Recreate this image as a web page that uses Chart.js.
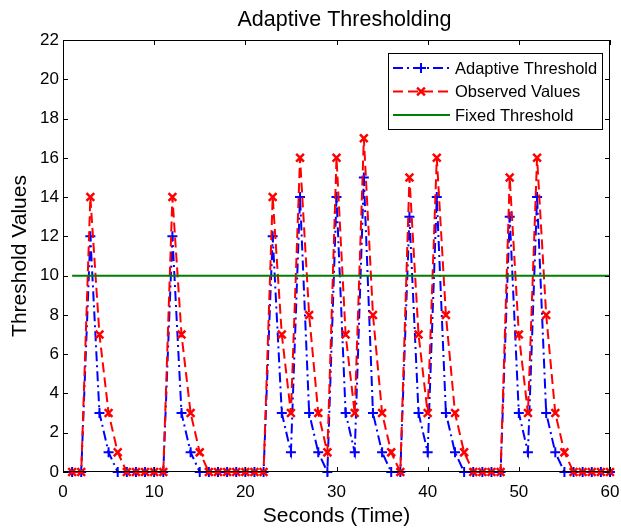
<!DOCTYPE html>
<html>
<head>
<meta charset="utf-8">
<title>Adaptive Thresholding</title>
<script src="https://cdn.jsdelivr.net/npm/chart.js@4.4.0/dist/chart.umd.min.js"></script>
<style>
  html, body { margin: 0; padding: 0; background: #fff; }
  #wrap { width: 621px; height: 529px; }
</style>
</head>
<body>
<div id="wrap"><canvas id="chart"></canvas></div>
<script>
// values, one sample per second
const seconds = [
  1, 2, 3, 4, 5, 6, 7, 8, 9, 10,
  11, 12, 13, 14, 15, 16, 17, 18, 19, 20,
  21, 22, 23, 24, 25, 26, 27, 28, 29, 30,
  31, 32, 33, 34, 35, 36, 37, 38, 39, 40,
  41, 42, 43, 44, 45, 46, 47, 48, 49, 50,
  51, 52, 53, 54, 55, 56, 57, 58, 59, 60
];
const observedValues = [
  0, 0, 14, 7, 3, 1, 0, 0, 0, 0,
  0, 14, 7, 3, 1, 0, 0, 0, 0, 0,
  0, 0, 14, 7, 3, 16, 8, 3, 1, 16,
  7, 3, 17, 8, 3, 1, 0, 15, 7, 3,
  16, 8, 3, 1, 0, 0, 0, 0, 15, 7,
  3, 16, 8, 3, 1, 0, 0, 0, 0, 0
];
const adaptiveThreshold = [
  0, 0, 12, 3, 1, 0, 0, 0, 0, 0,
  0, 12, 3, 1, 0, 0, 0, 0, 0, 0,
  0, 0, 12, 3, 1, 14, 3, 1, 0, 14,
  3, 1, 15, 3, 1, 0, 0, 13, 3, 1,
  14, 3, 1, 0, 0, 0, 0, 0, 13, 3,
  1, 14, 3, 1, 0, 0, 0, 0, 0, 0
];
const fixedThreshold = 10;
const xTicks = [0, 10, 20, 30, 40, 50, 60];
const yTicks = [0, 2, 4, 6, 8, 10, 12, 14, 16, 18, 20, 22];

const FONT = "'Liberation Sans', Arial, Helvetica, sans-serif";
const titleText = 'Adaptive Thresholding';

function toPoints(values) {
  return seconds.map((s, i) => ({ x: s, y: values[i] }));
}

// marker drawing for the legend, same shapes as chart.js cross / crossRot
function drawMarker(ctx, style, r, cx, cy) {
  ctx.beginPath();
  if (style === 'cross') {
    ctx.moveTo(cx - r, cy); ctx.lineTo(cx + r, cy);
    ctx.moveTo(cx, cy - r); ctx.lineTo(cx, cy + r);
  } else if (style === 'crossRot') {
    const d = r * Math.SQRT1_2;
    ctx.moveTo(cx - d, cy - d); ctx.lineTo(cx + d, cy + d);
    ctx.moveTo(cx - d, cy + d); ctx.lineTo(cx + d, cy - d);
  }
  ctx.stroke();
}

// box, inward ticks, title and boxed legend like the matlab figure
const matlabFrame = {
  id: 'matlabFrame',
  afterDatasetsDraw(chart) {
    const { ctx, chartArea: a, scales: { x, y } } = chart;
    ctx.save();
    ctx.setLineDash([]);
    ctx.strokeStyle = '#000';
    ctx.lineWidth = 1;
    ctx.strokeRect(a.left + 0.5, a.top + 0.5, a.width - 1, a.height - 1);
    ctx.beginPath();
    x.ticks.forEach(t => {
      const px = Math.round(x.getPixelForValue(t.value)) + 0.5;
      ctx.moveTo(px, a.bottom); ctx.lineTo(px, a.bottom - 5);
      ctx.moveTo(px, a.top); ctx.lineTo(px, a.top + 5);
    });
    y.ticks.forEach(t => {
      const py = Math.round(y.getPixelForValue(t.value)) + 0.5;
      ctx.moveTo(a.left, py); ctx.lineTo(a.left + 5, py);
      ctx.moveTo(a.right, py); ctx.lineTo(a.right - 5, py);
    });
    ctx.stroke();

    // title
    ctx.fillStyle = '#000';
    ctx.font = '21.5px ' + FONT;
    ctx.textAlign = 'center';
    ctx.textBaseline = 'middle';
    ctx.fillText(titleText, (a.left + a.right) / 2 + 8, 20);

    // legend
    const bx = a.right - 222, by = a.top + 13, bw = 214, bh = 76;
    ctx.fillStyle = '#fff';
    ctx.fillRect(bx, by, bw, bh);
    ctx.strokeStyle = '#000';
    ctx.lineWidth = 1;
    ctx.strokeRect(bx + 0.5, by + 0.5, bw, bh);
    ctx.font = '16.5px ' + FONT;
    ctx.textAlign = 'left';
    const order = [0, 1, 2];
    order.forEach((di, row) => {
      const ds = chart.data.datasets[di];
      const ry = by + 15 + row * 23.5;
      ctx.strokeStyle = ds.borderColor;
      ctx.lineWidth = ds.borderWidth;
      ctx.setLineDash(ds.borderDash || []);
      ctx.beginPath();
      ctx.moveTo(bx + 5, ry); ctx.lineTo(bx + 62, ry);
      ctx.stroke();
      ctx.setLineDash([]);
      if (ds.pointRadius > 0) {
        ctx.lineWidth = ds.pointBorderWidth;
        drawMarker(ctx, ds.pointStyle, ds.pointRadius, bx + 33, ry);
      }
      ctx.fillStyle = '#000';
      ctx.fillText(ds.label, bx + 67, ry + 1);
    });
    ctx.restore();
  }
};

new Chart(document.getElementById('chart'), {
  type: 'line',
  data: {
    datasets: [
      {
        label: 'Adaptive Threshold',
        data: toPoints(adaptiveThreshold),
        borderColor: '#0000ff',
        backgroundColor: '#0000ff',
        borderWidth: 2,
        borderDash: [10, 4, 2, 4],
        pointStyle: 'cross',
        pointRadius: 5,
        pointBorderWidth: 2,
        pointBorderColor: '#0000ff',
        tension: 0,
        clip: false,
        order: 2
      },
      {
        label: 'Observed Values',
        data: toPoints(observedValues),
        borderColor: '#ff0000',
        backgroundColor: '#ff0000',
        borderWidth: 2,
        borderDash: [10, 5],
        pointStyle: 'crossRot',
        pointRadius: 5.5,
        pointBorderWidth: 2.5,
        pointBorderColor: '#ff0000',
        tension: 0,
        clip: false,
        order: 1
      },
      {
        label: 'Fixed Threshold',
        data: seconds.map(s => ({ x: s, y: fixedThreshold })),
        borderColor: '#008000',
        backgroundColor: '#008000',
        borderWidth: 2,
        pointRadius: 0,
        tension: 0,
        order: 0
      }
    ]
  },
  options: {
    responsive: true,
    maintainAspectRatio: false,
    animation: false,
    layout: { padding: { left: 0, right: 11, top: 40, bottom: 0 } },
    plugins: {
      legend: { display: false },
      title: { display: false },
      tooltip: { enabled: false }
    },
    scales: {
      x: {
        type: 'linear',
        min: 0,
        max: 60,
        afterBuildTicks: scale => { scale.ticks = xTicks.map(v => ({ value: v })); },
        afterFit: scale => {
          scale.height = 57;
          scale.paddingLeft = 0;
          scale.paddingRight = 0;
        },
        grid: { display: false, drawTicks: false },
        border: { display: false },
        ticks: { color: '#000', font: { family: FONT, size: 17 }, padding: 10, maxRotation: 0 },
        title: {
          display: true,
          text: 'Seconds (Time)',
          color: '#000',
          font: { family: FONT, size: 21 },
          padding: { top: 0, bottom: 0 }
        }
      },
      y: {
        type: 'linear',
        min: 0,
        max: 22,
        afterBuildTicks: scale => { scale.ticks = yTicks.map(v => ({ value: v })); },
        afterFit: scale => {
          scale.width = 63;
          scale.paddingTop = 0;
          scale.paddingBottom = 0;
        },
        grid: { display: false, drawTicks: false },
        border: { display: false },
        ticks: { color: '#000', font: { family: FONT, size: 17 }, padding: 4 },
        title: {
          display: true,
          text: 'Threshold Values',
          color: '#000',
          font: { family: FONT, size: 21 },
          padding: { top: 8, bottom: 0 }
        }
      }
    }
  },
  plugins: [matlabFrame]
});
</script>
</body>
</html>
